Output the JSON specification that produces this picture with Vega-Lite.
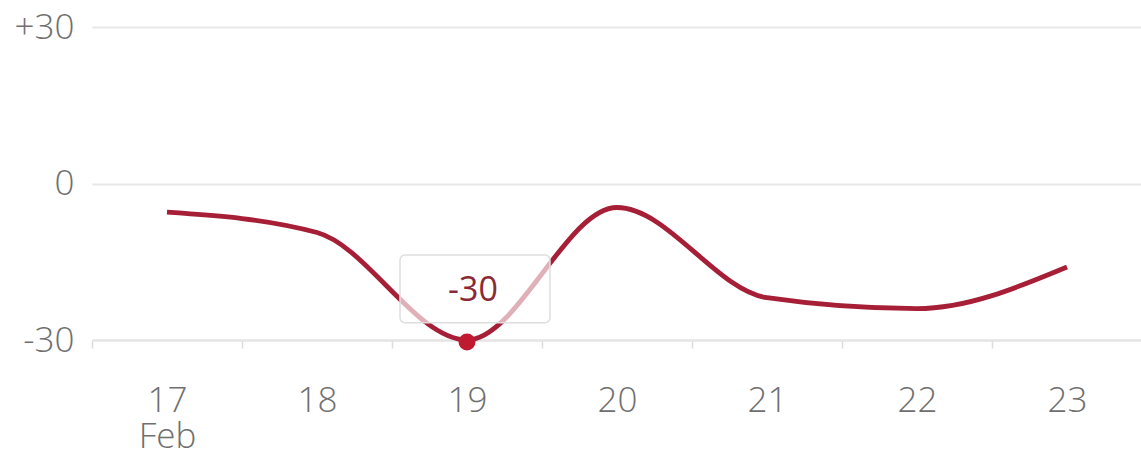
{
  "$schema": "https://vega.github.io/schema/vega-lite/v6.json",
  "autosize": {"type": "none"},
  "padding": {"left": 92, "top": 27, "right": 0, "bottom": 114},
  "width": 1050,
  "height": 313,
  "background": "white",
  "config": {
    "view": {"stroke": null},
    "font": "Open Sans",
    "axis": {"labelFont": "Open Sans", "labelColor": "#6f6f6f", "labelFontSize": 35, "labelFontWeight": 300}
  },
  "data": {
    "values": [
      {"day": 17, "value": -5.5},
      {"day": 18, "value": -9.4},
      {"day": 19, "value": -30},
      {"day": 20, "value": -4.6},
      {"day": 21, "value": -21.9},
      {"day": 22, "value": -24.0},
      {"day": 23, "value": -16.0}
    ]
  },
  "encoding": {
    "x": {
      "field": "day",
      "type": "ordinal",
      "scale": {"paddingInner": 0, "paddingOuter": 0},
      "axis": {
        "title": null,
        "labelAngle": 0,
        "tickBand": "extent",
        "domainColor": "#e4e4e4",
        "domainWidth": 2,
        "tickColor": "#dcdcdc",
        "tickWidth": 1.5,
        "tickSize": 8,
        "labelPadding": 35,
        "labelLineHeight": 36,
        "grid": false,
        "labelExpr": "datum.value == 17 ? ['17', 'Feb'] : datum.label"
      }
    }
  },
  "layer": [
    {
      "mark": {"type": "line", "interpolate": "monotone", "color": "#a61f37", "strokeWidth": 4.8},
      "encoding": {
        "y": {
          "field": "value",
          "type": "quantitative",
          "scale": {"domain": [-30, 30], "nice": false, "zero": false},
          "axis": {
            "title": null,
            "values": [-30, 0, 30],
            "grid": true,
            "gridColor": "#e8e8e8",
            "gridWidth": 2,
            "domain": false,
            "ticks": false,
            "labelPadding": 18,
            "labelExpr": "datum.value > 0 ? '+' + datum.value : '' + datum.value"
          }
        }
      }
    },
    {
      "transform": [{"filter": "datum.day == 19"}],
      "mark": {"type": "rect", "xOffset": 8, "x2Offset": 5, "fill": "white", "fillOpacity": 0.65, "stroke": "#dedede", "strokeWidth": 1.5, "cornerRadius": 5},
      "encoding": {
        "y": {"datum": -13.7, "type": "quantitative"},
        "y2": {"datum": -26.7}
      }
    },
    {
      "transform": [{"filter": "datum.day == 19"}],
      "mark": {"type": "point", "filled": true, "color": "#c01a30", "size": 290, "opacity": 1, "yOffset": 2},
      "encoding": {
        "y": {"field": "value", "type": "quantitative"}
      }
    },
    {
      "transform": [{"filter": "datum.day == 19"}],
      "mark": {"type": "text", "color": "#8a2a36", "fontSize": 34, "font": "Open Sans", "dx": 6, "dy": -49, "baseline": "middle"},
      "encoding": {
        "y": {"field": "value", "type": "quantitative"},
        "text": {"field": "value", "type": "nominal"}
      }
    }
  ]
}
